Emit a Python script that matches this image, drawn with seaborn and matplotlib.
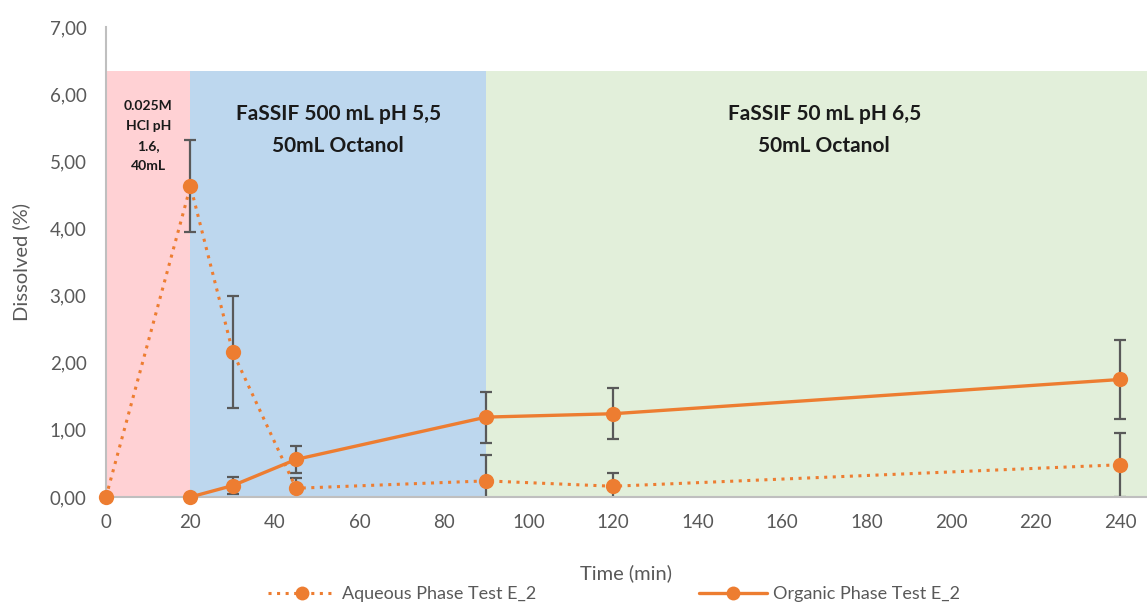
import matplotlib
matplotlib.use("Agg")
import matplotlib.pyplot as plt
import seaborn as sns
import pandas as pd
from matplotlib.ticker import FuncFormatter, MultipleLocator
from matplotlib.lines import Line2D

# Sampling times (min) and dissolved fractions (%)
aq_time = [0, 20, 30, 45, 90, 120, 240]
aq_value = [0.00, 4.63, 2.16, 0.13, 0.24, 0.16, 0.48]
aq_err = [0.00, 0.69, 0.83, 0.15, 0.39, 0.20, 0.48]

org_time = [20, 30, 45, 90, 120, 240]
org_value = [0.00, 0.17, 0.56, 1.19, 1.24, 1.75]
org_err = [0.00, 0.13, 0.20, 0.38, 0.38, 0.59]

# Media phases shown as background bands
phase_start = [0, 20, 90]
phase_end = [20, 90, 250]
phase_height = [6.35, 6.35, 6.35]
phase_color = ["#FFD1D4", "#BDD7EE", "#E2EFDA"]
phase_label = ["0.025M\nHCl pH\n1.6,\n40mL",
               "FaSSIF 500 mL pH 5,5\n50mL Octanol",
               "FaSSIF 50 mL pH 6,5\n50mL Octanol"]

series_names = ["Aqueous Phase Test E_2", "Organic Phase Test E_2"]

sns.set_theme(style="white")
plt.rcParams["font.family"] = ["Lato", "DejaVu Sans"]

ORANGE = "#ED7D31"
GREY = "#595959"

fig = plt.figure(figsize=(11.47, 6.03), dpi=100)
ax = fig.add_axes([0.0924, 0.1758, 0.9076, 0.7794])

for s, e, h, c in zip(phase_start, phase_end, phase_height, phase_color):
    ax.bar(s, h, width=e - s, align="edge", color=c, linewidth=0, zorder=0)

df = pd.concat([
    pd.DataFrame({"t": aq_time, "v": aq_value, "series": series_names[0]}),
    pd.DataFrame({"t": org_time, "v": org_value, "series": series_names[1]}),
])

ax.errorbar(aq_time, aq_value, yerr=aq_err, fmt="none", ecolor=GREY,
            elinewidth=1.6, capsize=4, capthick=1.6, zorder=2)
ax.errorbar(org_time, org_value, yerr=org_err, fmt="none", ecolor=GREY,
            elinewidth=1.6, capsize=4, capthick=1.6, zorder=2)

sns.lineplot(data=df[df.series == series_names[0]], x="t", y="v", ax=ax,
             color=ORANGE, linewidth=2.2, linestyle=(0, (1, 1.8)),
             marker="o", markersize=11, markeredgewidth=0, clip_on=False,
             legend=False, zorder=3)
sns.lineplot(data=df[df.series == series_names[1]], x="t", y="v", ax=ax,
             color=ORANGE, linewidth=2.4, linestyle="-",
             marker="o", markersize=11, markeredgewidth=0, clip_on=False,
             legend=False, zorder=3)

# Phase annotations
ax.text(10, 5.38, phase_label[0], ha="center", va="center", fontsize=10,
        fontweight="bold", color="#1a1a1a", linespacing=1.8)
ax.text(55, 5.47, phase_label[1], ha="center", va="center", fontsize=15,
        fontweight="bold", color="#1a1a1a", linespacing=1.75)
ax.text(170, 5.47, phase_label[2], ha="center", va="center", fontsize=15,
        fontweight="bold", color="#1a1a1a", linespacing=1.75)

ax.set_xlim(0, 246.4)
ax.set_ylim(0, 7)
ax.xaxis.set_major_locator(MultipleLocator(20))
ax.yaxis.set_major_locator(MultipleLocator(1))
ax.yaxis.set_major_formatter(FuncFormatter(lambda v, p: f"{v:.2f}".replace(".", ",")))
ax.tick_params(axis="both", labelsize=13.5, labelcolor=GREY, length=0)
ax.tick_params(axis="y", pad=14)
ax.tick_params(axis="x", pad=12)

ax.set_xlabel("Time (min)", fontsize=14.5, color=GREY, labelpad=24)
ax.set_ylabel("Dissolved (%)", fontsize=14.5, color=GREY, labelpad=14)

for side in ["top", "right"]:
    ax.spines[side].set_visible(False)
for side in ["left", "bottom"]:
    ax.spines[side].set_color("#BFBFBF")
    ax.spines[side].set_linewidth(1.5)
ax.patch.set_alpha(0)

handles = [
    Line2D([], [], color=ORANGE, linewidth=2.2, linestyle=(0, (1, 1.8)),
           marker="o", markersize=10, markeredgewidth=0),
    Line2D([], [], color=ORANGE, linewidth=2.4, linestyle="-",
           marker="o", markersize=10, markeredgewidth=0),
]
fig.legend(handles, series_names, loc="lower center", ncol=2,
           bbox_to_anchor=(0.535, -0.025), frameon=False, fontsize=13,
           labelcolor=GREY, handlelength=3.8, columnspacing=9,
           handletextpad=0.3)

fig.savefig("out.png", dpi=100)
